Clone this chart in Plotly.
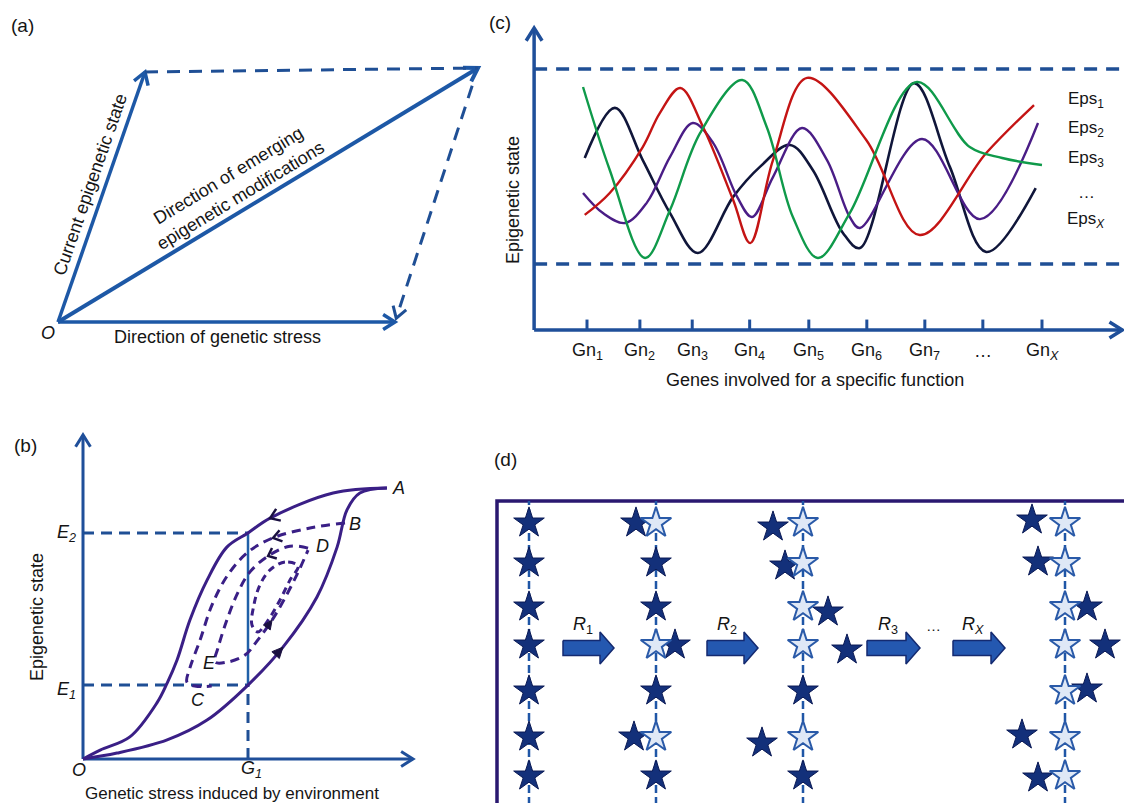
import math
import plotly.graph_objects as go

W, H = 1124, 803

# ---------------- Panel (a): vector parallelogram (1 unit = 100 px)
a_genetic_stress = [3.37, 0.0]
a_epigenetic_state = [0.87, 2.50]
a_emerging = [4.20, 2.54]

# ---------------- Panel (b): hysteresis loops
b_G1, b_E1, b_E2 = 5.0, 2.24, 6.85
b_x_max, b_y_max = 10.0, 9.82
b_lower_x = [0.0, 1.03, 2.55, 3.76, 5.0, 6.06, 7.09, 7.70, 8.0, 8.39, 9.21]
b_lower_y = [0.0, 0.18, 0.58, 1.18, 2.24, 3.39, 4.91, 6.42, 7.55, 8.06, 8.21]
b_upper_x = [9.21, 7.58, 5.67, 5.0, 4.36, 3.76, 3.24, 2.85, 2.55, 2.24, 1.42, 0.52, 0.0]
b_upper_y = [8.21, 8.06, 7.30, 6.85, 6.42, 5.42, 4.21, 3.00, 2.30, 1.70, 0.67, 0.27, 0.0]
b_loop1_x = [7.94, 6.88, 5.76, 5.0, 4.39, 3.91, 3.55, 3.24, 3.15, 3.39, 3.9]
b_loop1_y = [7.15, 7.00, 6.70, 6.27, 5.58, 4.67, 3.61, 2.76, 2.33, 2.21, 2.21]
b_loop2_x = [6.82, 6.27, 5.61, 5.06, 4.70, 4.36, 4.09, 4.0, 4.39, 4.91, 5.30, 5.73, 6.12, 6.48, 6.82]
b_loop2_y = [6.39, 6.45, 6.15, 5.67, 5.06, 4.21, 3.36, 2.94, 2.94, 3.15, 3.61, 4.21, 4.88, 5.58, 6.33]
b_loop3_x = [6.52, 6.12, 5.67, 5.36, 5.18, 5.12, 5.30, 5.61, 5.97, 6.27, 6.52]
b_loop3_y = [5.85, 5.97, 5.73, 5.27, 4.67, 4.06, 3.85, 4.21, 4.82, 5.42, 5.85]

# ---------------- Panel (c): epigenetic states across genes
gene_labels = ["Gn<sub>1</sub>", "Gn<sub>2</sub>", "Gn<sub>3</sub>", "Gn<sub>4</sub>", "Gn<sub>5</sub>",
               "Gn<sub>6</sub>", "Gn<sub>7</sub>", "…", "Gn<sub><i>X</i></sub>"]
gene_pos = [1.0, 1.93, 2.85, 3.86, 4.90, 5.92, 6.94, 7.96, 9.0]
eps_labels = ["Eps<sub>1</sub>", "Eps<sub>2</sub>", "Eps<sub>3</sub>", "…", "Eps<sub><i>X</i></sub>"]
c_upper_bound, c_lower_bound = 10.0, 2.53
c_x_max, c_y_max = 10.41, 11.57

red_x = [0.96, 1.40, 1.98, 2.28, 2.64, 3.04, 3.57, 3.87, 4.27, 4.87, 5.91, 6.85, 8.02, 8.86]
red_y = [4.41, 5.25, 7.01, 8.31, 9.27, 7.78, 4.98, 3.33, 6.51, 9.66, 7.28, 3.64, 6.78, 8.62]
navy_x = [0.96, 1.49, 1.98, 2.46, 2.95, 3.57, 4.04, 4.57, 4.97, 5.50, 5.80, 6.75, 7.38, 8.02, 8.89]
navy_y = [6.59, 8.51, 6.51, 4.48, 2.95, 5.10, 6.25, 7.09, 6.13, 3.72, 3.14, 9.46, 6.25, 2.99, 5.44]
purple_x = [0.93, 1.28, 1.67, 2.05, 2.46, 2.86, 3.22, 3.64, 3.90, 4.27, 4.78, 5.22, 5.62, 5.80, 6.89, 7.91, 8.93]
purple_y = [5.25, 4.48, 4.10, 4.87, 6.63, 7.93, 7.16, 5.10, 4.33, 5.86, 7.74, 6.51, 4.33, 3.91, 7.32, 4.25, 7.93]
green_x = [0.93, 1.40, 2.02, 2.46, 2.99, 3.73, 4.16, 4.62, 5.06, 5.62, 6.80, 7.73, 8.30, 9.00]
green_y = [9.31, 6.13, 2.76, 4.60, 7.55, 9.58, 7.78, 4.33, 2.76, 4.48, 9.50, 7.01, 6.59, 6.32]

# ---------------- Panel (d): modification sites across rounds
d_columns = [3.2, 15.9, 30.6, 56.8]
d_rows = [28.0, 24.0, 19.6, 15.8, 11.2, 6.6, 2.7]
d_hollow_rows = [[], [0, 3, 5], [0, 1, 2, 3, 5], [0, 1, 2, 3, 4, 5, 6]]
d_moved_x = [13.9, 17.8, 13.7, 27.6, 28.8, 33.1, 35.0, 26.5, 53.5, 54.1, 59.0, 60.8, 59.0, 52.5, 54.1]
d_moved_y = [28.0, 15.8, 6.6, 27.6, 23.7, 19.1, 15.3, 6.0, 28.3, 24.1, 19.6, 15.8, 11.4, 6.8, 2.5]
d_round_labels = ["<i>R</i><sub>1</sub>", "<i>R</i><sub>2</sub>", "<i>R</i><sub>3</sub>", "<i>R</i><sub><i>X</i></sub>"]
d_arrow_start = [6.6, 21.0, 37.0, 45.6]
d_arrow_end = [11.7, 26.1, 42.3, 50.8]
d_arrow_y = 15.5
d_box_top = 30.2

# ---------------- styling / layout helpers
FONT = "Liberation Sans, Arial, sans-serif"
BLUE = "#1d58a6"
AXBLUE = "#1f4f9a"
DASHBLUE = "#1f4f95"
PURPLE = "#3a1f86"

AX = {"a": ("x", "y"), "b": ("x2", "y2"), "c": ("x3", "y3"), "d": ("x4", "y4")}
SCALE = {"a": (100.0, 100.0), "b": (33.0, 33.0), "c": (56.875, 26.1), "d": (10.0, 10.0)}

fig = go.Figure()


def add_line(ax, xs, ys, color, width, dash=None, shape="linear", fill=None, fillcolor=None):
    line = dict(color=color, width=width, shape=shape)
    if dash:
        line["dash"] = dash
    if shape == "spline":
        line["smoothing"] = 1.0
    kw = {}
    if fill:
        kw = dict(fill=fill, fillcolor=fillcolor)
    fig.add_trace(go.Scatter(x=xs, y=ys, mode="lines", line=line, xaxis=AX[ax][0], yaxis=AX[ax][1],
                             hoverinfo="skip", showlegend=False, **kw))


def head(ax, tip, frm, color, width, L=13, ang=32, filled=False):
    sx, sy = SCALE[ax]
    dx, dy = (tip[0] - frm[0]) * sx, (tip[1] - frm[1]) * sy
    n = math.hypot(dx, dy)
    ux, uy = dx / n, dy / n
    pts = []
    for s in (1, -1):
        a = math.radians(ang) * s
        rx = -ux * math.cos(a) + uy * math.sin(a)
        ry = -ux * math.sin(a) - uy * math.cos(a)
        pts.append((tip[0] + L * rx / sx, tip[1] + L * ry / sy))
    xs = [pts[0][0], tip[0], pts[1][0]]
    ys = [pts[0][1], tip[1], pts[1][1]]
    if filled:
        add_line(ax, xs + [xs[0]], ys + [ys[0]], color, 1, fill="toself", fillcolor=color)
    else:
        add_line(ax, xs, ys, color, width)


def arrow(ax, p0, p1, color, width, dash=None, L=13):
    add_line(ax, [p0[0], p1[0]], [p0[1], p1[1]], color, width, dash=dash)
    head(ax, p1, p0, color, width, L=L)


def P(px, py):
    return px / W, 1 - py / H


annotations = []


def text(px, py, s, size=18, angle=0, italic=False, xanchor="center"):
    x, y = P(px, py)
    if italic:
        s = "<i>" + s + "</i>"
    annotations.append(dict(x=x, y=y, xref="paper", yref="paper", text=s, showarrow=False,
                            textangle=angle, xanchor=xanchor, yanchor="middle",
                            font=dict(family=FONT, size=size, color="#151515")))


# ================= Panel (a)
O = [0.0, 0.0]
arrow("a", O, a_epigenetic_state, BLUE, 3.5, L=14)
arrow("a", O, a_genetic_stress, BLUE, 3.5, L=14)
arrow("a", O, a_emerging, BLUE, 4, L=15)
add_line("a", [a_epigenetic_state[0], a_emerging[0]], [a_epigenetic_state[1], a_emerging[1]], DASHBLUE, 3,
         dash="13px,9px")
ds = [a_emerging[0] + 0.07 * (a_genetic_stress[0] - a_emerging[0]),
      a_emerging[1] + 0.07 * (a_genetic_stress[1] - a_emerging[1])]
de = [a_emerging[0] + 0.985 * (a_genetic_stress[0] - a_emerging[0]),
      a_emerging[1] + 0.985 * (a_genetic_stress[1] - a_emerging[1])]
arrow("a", ds, de, DASHBLUE, 3, dash="13px,9px", L=13)

text(22, 25, "(a)", 19)
text(48, 333, "O", 18, italic=True)
text(218, 337, "Direction of genetic stress", 18)
text(90, 185, "Current epigenetic state", 18, angle=-70.8)
text(234, 185, "Direction of emerging<br>epigenetic modifications", 18, angle=-31.2)

# ================= Panel (b)
arrow("b", [0, 0], [0, b_y_max], AXBLUE, 3, L=14)
arrow("b", [0, 0], [b_x_max, 0], AXBLUE, 3, L=14)
add_line("b", [0, b_G1], [b_E2, b_E2], DASHBLUE, 3, dash="11px,7px")
add_line("b", [0, b_G1], [b_E1, b_E1], DASHBLUE, 3, dash="11px,7px")
add_line("b", [b_G1, b_G1], [0, b_E1], DASHBLUE, 3, dash="11px,7px")
add_line("b", [b_G1, b_G1], [b_E1, b_E2], "#2060a8", 2.5)
add_line("b", b_lower_x, b_lower_y, PURPLE, 3, shape="spline")
add_line("b", b_upper_x, b_upper_y, PURPLE, 3, shape="spline")
add_line("b", b_loop1_x, b_loop1_y, PURPLE, 3, dash="9px,6px", shape="spline")
add_line("b", b_loop2_x, b_loop2_y, PURPLE, 3, dash="9px,6px", shape="spline")
add_line("b", b_loop3_x, b_loop3_y, PURPLE, 3, dash="7px,5px", shape="spline")
head("b", [b_lower_x[5], b_lower_y[5]], [b_lower_x[4], b_lower_y[4]], "#1a1040", 2, L=12, ang=25, filled=True)
head("b", [b_upper_x[2], b_upper_y[2]], [b_upper_x[1], b_upper_y[1]], "#1a1040", 2.5, L=11, ang=35)
head("b", [b_loop1_x[2], b_loop1_y[2]], [b_loop1_x[1], b_loop1_y[1]], "#1a1040", 2.5, L=10, ang=35)
head("b", [b_loop2_x[2], b_loop2_y[2]], [b_loop2_x[1], b_loop2_y[1]], "#1a1040", 2.5, L=9, ang=40)
head("b", [b_loop2_x[11], b_loop2_y[11]], [b_loop2_x[10], b_loop2_y[10]], "#1a1040", 2, L=10, ang=25, filled=True)

text(25, 445, "(b)", 19)
text(66, 533, "E<sub>2</sub>", 18, italic=True)
text(66, 690, "E<sub>1</sub>", 18, italic=True)
text(79, 770, "O", 18, italic=True)
text(251, 769, "G<sub>1</sub>", 18, italic=True)
text(398, 488, "A", 18, italic=True)
text(355, 524, "B", 18, italic=True)
text(322, 546, "D", 18, italic=True)
text(198, 700, "C", 18, italic=True)
text(209, 663, "E", 18, italic=True)
text(37, 617, "Epigenetic state", 18, angle=-90)
text(232, 793, "Genetic stress induced by environment", 17)

# ================= Panel (c)
c_x0 = 0.07
arrow("c", [c_x0, 0], [c_x0, c_y_max], AXBLUE, 3.5, L=15)
arrow("c", [c_x0, 0], [c_x_max, 0], AXBLUE, 3.5, L=15)
add_line("c", [c_x0, 10.45], [c_upper_bound, c_upper_bound], DASHBLUE, 3.5, dash="13px,9px")
add_line("c", [c_x0, 10.45], [c_lower_bound, c_lower_bound], DASHBLUE, 3.5, dash="13px,9px")
for g in gene_pos:
    add_line("c", [g, g], [0, 0.4], AXBLUE, 3)
add_line("c", navy_x, navy_y, "#10163a", 2.6, shape="spline")
add_line("c", purple_x, purple_y, "#4a1d86", 2.4, shape="spline")
add_line("c", red_x, red_y, "#c41414", 2.4, shape="spline")
add_line("c", green_x, green_y, "#0f9a4a", 2.4, shape="spline")

text(500, 22, "(c)", 19)
for g, lab in zip(gene_pos, gene_labels):
    px = 587 + (g - 1) * 56.875
    text(px, 351, lab, 18)
for i, lab in enumerate(eps_labels):
    text(1086, [100, 129, 159, 192, 220][i], lab, 17)
text(513, 200, "Epigenetic state", 18, angle=-90)
text(815, 380, "Genes involved for a specific function", 18)

# ================= Panel (d)
add_line("d", [0, 0, 70], [-5, d_box_top, d_box_top], "#2a1870", 3.5)
for c in d_columns:
    add_line("d", [c, c], [-5, d_box_top], "#1f56a6", 2.5, dash="8px,4px")
for s, e, in zip(d_arrow_start, d_arrow_end):
    hl = 1.4
    xs = [s, e - hl, e - hl, e, e - hl, e - hl, s, s]
    ys = [d_arrow_y + 0.75, d_arrow_y + 0.75, d_arrow_y + 1.6, d_arrow_y, d_arrow_y - 1.6,
          d_arrow_y - 0.75, d_arrow_y - 0.75, d_arrow_y + 0.75]
    add_line("d", xs, ys, "#142a70", 1.5, fill="toself", fillcolor="#2458b0")

fx, fy, hx, hy = [], [], [], []
for ci, c in enumerate(d_columns):
    for ri, r in enumerate(d_rows):
        if ri in d_hollow_rows[ci]:
            hx.append(c); hy.append(r)
        else:
            fx.append(c); fy.append(r)
fx += d_moved_x
fy += d_moved_y
fig.add_trace(go.Scatter(x=fx, y=fy, mode="markers", xaxis="x4", yaxis="y4", hoverinfo="skip", showlegend=False,
                         marker=dict(symbol="star", size=23, color="#13307a", line=dict(color="#0b1a55", width=1))))
fig.add_trace(go.Scatter(x=hx, y=hy, mode="markers", xaxis="x4", yaxis="y4", hoverinfo="skip", showlegend=False,
                         marker=dict(symbol="star", size=23, color="#dfe8f6", line=dict(color="#2a5aa8", width=2))))

text(505, 460, "(d)", 19)
for lab, s, e in zip(d_round_labels, d_arrow_start, d_arrow_end):
    text(497 + (s + e) / 2 * 10 - 6, 625, lab, 18)
text(933, 625, "…", 15)

# ================= layout
layout = dict(width=W, height=H, margin=dict(l=0, r=0, t=0, b=0), paper_bgcolor="white",
              plot_bgcolor="white", showlegend=False, annotations=annotations)
panels = [
    ("", (0, 490), (0, 400), (-0.58, 4.32), (-0.78, 3.22)),
    ("2", (0, 430), (420, 803), (-83 / 33, 347 / 33), (-44 / 33, 339 / 33)),
    ("3", (500, 1124), (0, 400), (-0.5297, 10.442), (-2.682, 12.644)),
    ("4", (490, 1124), (440, 803), (-0.7, 62.7), (0.0, 36.3)),
]
for n, (x0, x1), (y0, y1), rx, ry in panels:
    layout["xaxis" + n] = dict(domain=[x0 / W, x1 / W], range=list(rx), visible=False, fixedrange=True,
                               anchor="y" + n)
    layout["yaxis" + n] = dict(domain=[1 - y1 / H, 1 - y0 / H], range=list(ry), visible=False, fixedrange=True,
                               anchor="x" + n)
fig.update_layout(**layout)
fig.write_html("out.html", config={"displayModeBar": False},
               post_script="document.body.style.margin='0';document.body.style.overflow='hidden';")
